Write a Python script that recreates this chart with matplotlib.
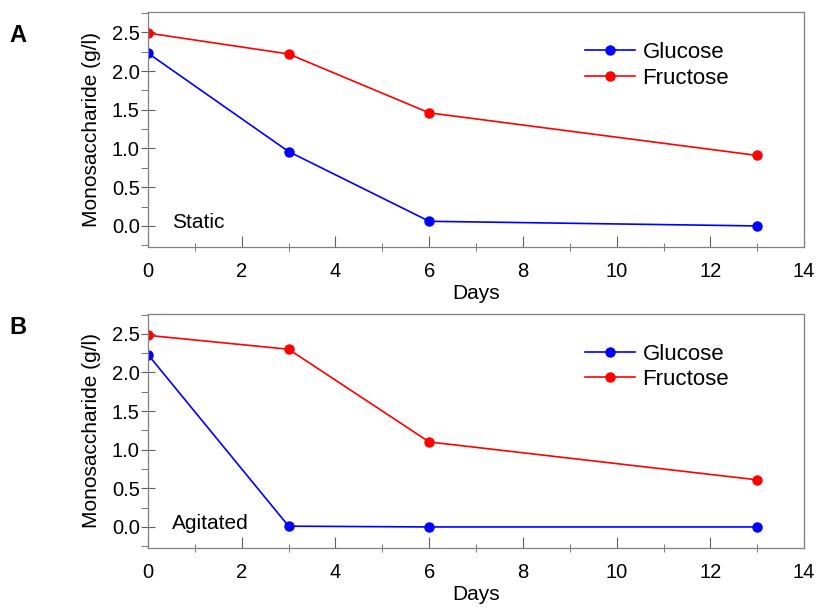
import matplotlib
matplotlib.use("Agg")
from matplotlib import pyplot as plt
from matplotlib.ticker import MultipleLocator

plt.rcParams['font.family'] = ['Liberation Sans', 'DejaVu Sans']

days = [0, 3, 6, 13]
glucose_static = [2.23, 0.96, 0.06, 0.0]
fructose_static = [2.49, 2.22, 1.46, 0.91]
glucose_agitated = [2.23, 0.01, 0.0, 0.0]
fructose_agitated = [2.48, 2.30, 1.10, 0.61]

panels = [
    ("A", 0.941, "Static", glucose_static, fructose_static, [0.181, 0.594, 0.802, 0.386]),
    ("B", 0.462, "Agitated", glucose_agitated, fructose_agitated, [0.181, 0.099, 0.802, 0.385]),
]

fig = plt.figure(figsize=(8.18, 6.08), dpi=100)
fig.patch.set_facecolor("white")

for letter, ly, cond, glu, fru, pos in panels:
    ax = fig.add_axes(pos)
    ax.set_facecolor("white")
    ax.plot(days, glu, color="blue", marker="o", markersize=6.5, linewidth=1.2, label="Glucose")
    ax.plot(days, fru, color="red", marker="o", markersize=6.5, linewidth=1.2, label="Fructose")

    ax.set_xlim(0, 14)
    ax.set_ylim(-0.27, 2.76)
    ax.xaxis.set_major_locator(MultipleLocator(2))
    ax.xaxis.set_minor_locator(MultipleLocator(1))
    ax.yaxis.set_minor_locator(MultipleLocator(0.25))
    ax.set_yticks([0, 0.5, 1.0, 1.5, 2.0, 2.5])
    ax.set_yticklabels(["0.0", "0.5", "1.0", "1.5", "2.0", "2.5"])

    for s in ax.spines.values():
        s.set_color("#808080")
        s.set_linewidth(0.9)
    ax.tick_params(axis="x", which="major", direction="in", length=8, color="#606060", labelsize=14.5, pad=11)
    ax.tick_params(axis="x", which="minor", direction="inout", length=6, color="#606060")
    ax.tick_params(axis="y", which="major", direction="inout", length=10, color="#606060", labelsize=14.5, pad=1)
    ax.tick_params(axis="y", which="minor", direction="out", length=5, color="#606060")

    ax.set_xlabel("Days", fontsize=15, labelpad=2)
    ax.set_ylabel("Monosaccharide (g/l)", fontsize=15, labelpad=8)

    ax.text(0.037, 0.065, cond, transform=ax.transAxes, fontsize=15, ha="left", va="bottom")
    ax.legend(loc="upper left", bbox_to_anchor=(0.652, 0.91), frameon=False, fontsize=16,
              handlelength=2.25, handletextpad=0.35, labelspacing=0.2, borderaxespad=0)

    fig.text(0.012, ly, letter, fontsize=17, fontweight="bold", ha="left", va="center")

plt.savefig("out.png", dpi=100)
